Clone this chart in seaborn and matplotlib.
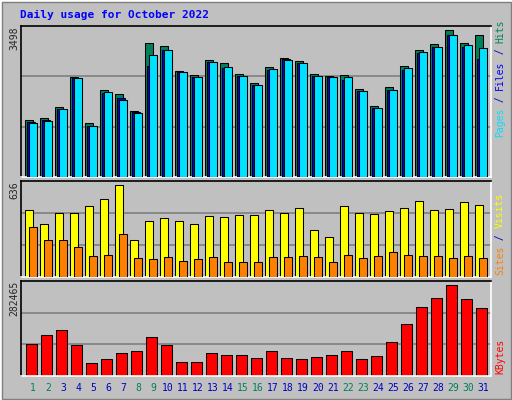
import numpy as np
import matplotlib
matplotlib.use("Agg")
import matplotlib.pyplot as plt
import seaborn as sns
from matplotlib.patches import Rectangle

days = list(range(1, 32))
hits = [1361,1408,1669,2381,1289,2072,1978,1574,3188,3117,2523,2428,2784,2713,2452,2239,
        2618,2832,2761,2452,2405,2428,2096,1693,2144,2642,3022,3164,3498,3188,3378]
files = [1314,1361,1622,2357,1218,2009,1883,1550,2642,3022,2500,2381,2737,2594,2405,2191,
         2547,2808,2713,2405,2373,2310,2049,1646,2073,2547,2950,3093,3378,3093,2808]
pages = [1290,1337,1622,2357,1218,2025,1835,1527,2903,3022,2500,2381,2737,2618,2405,2191,
         2571,2784,2713,2405,2373,2381,2049,1646,2073,2594,2974,3093,3378,3140,3069]
visits = [464,368,443,443,491,539,636,257,388,409,388,368,423,416,429,429,
          464,443,478,326,278,491,443,436,457,478,526,464,471,519,499]
sites = [347,257,257,209,147,154,299,133,126,140,112,126,140,106,106,106,
         140,140,147,140,106,154,133,147,175,154,147,147,133,147,133]
kbytes = [97934,125770,141233,94841,39170,51541,70097,76283,119585,94841,44325,44325,
          70097,63912,63912,54634,76283,56696,53603,59788,65974,78345,53603,62881,106183,
          161850,214427,242262,282465,238139,210303]
ylabels = ["3498", "636", "282465"]
right_top = [("Pages", "#00E0FF"), (" / ", "#0000C0"), ("Files", "#0000FF"), (" / ", "#0000C0"), ("Hits", "#00805C")]
right_mid = [("Sites", "#FF8000"), (" / ", "#0000C0"), ("Visits", "#FFFF00")]
right_bot = [("KBytes", "#FF0000")]

sns.set_style("white")
plt.rcParams['font.family'] = ['DejaVu Sans Mono', 'DejaVu Sans']
W, H = 512, 400
fig = plt.figure(figsize=(5.12, 4.0), dpi=100)
fig.patch.set_facecolor("#C0C0C0")

def ax_px(x0, y0, x1, y1):
    return fig.add_axes([x0 / W, 1 - y1 / H, (x1 - x0) / W, (y1 - y0) / H])

bg = "#C0C0C0"
ek = dict(edgecolor="black", linewidth=0.75)
x = np.array(days, dtype=float)

def style(ax, ymax):
    ax.set_facecolor(bg)
    ax.set_xlim(0.2, 31.53)
    ax.set_ylim(0, ymax)
    for v in (ymax / 3, 2 * ymax / 3):
        ax.axhline(v, color="#808080", lw=1.2, zorder=0)
    ax.set_xticks([]); ax.set_yticks([])
    ax.spines["left"].set_color("black"); ax.spines["top"].set_color("black")
    ax.spines["right"].set_color("white"); ax.spines["bottom"].set_color("white")
    for s in ax.spines.values():
        s.set_linewidth(1.2)

a1 = ax_px(21, 26, 491, 177)
style(a1, 3600)
a1.bar(x - 0.53, hits, width=0.55, align="edge", color="#00805C", zorder=2, **ek)
a1.bar(x - 0.40, files, width=0.55, align="edge", color="#0000FF", zorder=3, **ek)
a1.bar(x - 0.27, pages, width=0.52, align="edge", color="#00E0FF", zorder=4, **ek)

a2 = ax_px(21, 181, 491, 277)
style(a2, 661)
a2.bar(x - 0.53, visits, width=0.55, align="edge", color="#FFFF00", zorder=2, **ek)
a2.bar(x - 0.27, sites, width=0.52, align="edge", color="#FF8000", zorder=3, **ek)

a3 = ax_px(21, 281, 491, 376)
style(a3, 293800)
a3.bar(x - 0.47, kbytes, width=0.71, align="edge", color="#FF0000", zorder=2, **ek)

fig.text(20 / W, 1 - 15 / H, "Daily usage for October 2022", color="#0000FF",
         fontsize=8, fontweight="bold", va="center", ha="left")
for lab, yc in zip(ylabels, [27, 181, 281]):
    fig.text(14 / W, 1 - yc / H, lab, rotation=90, fontsize=7, ha="center", va="top")

weekend = {1, 2, 8, 9, 15, 16, 22, 23, 29, 30}
for d in days:
    px = 33 + 15 * (d - 1)
    fig.text(px / W, 1 - 388 / H, str(d), fontsize=7, ha="center", va="center",
             color="#00805C" if d in weekend else "#0000C0")

def right_label(pieces, ybottom):
    y = ybottom
    cw = 5.9
    for t, c in pieces:
        fig.text(500 / W, 1 - y / H, t, rotation=90, fontsize=7, color=c,
                 ha="center", va="bottom")
        y -= cw * len(t)
right_label(right_top, 137)
right_label(right_mid, 275)
right_label(right_bot, 374)

# outer 3D frame
fig.add_artist(Rectangle((0, 0), 1, 1, transform=fig.transFigure, fill=False,
                         edgecolor="white", lw=2))
fig.add_artist(Rectangle((1.5 / W, 1.5 / H), 1 - 3 / W, 1 - 3 / H, transform=fig.transFigure,
                         fill=False, edgecolor="#808080", lw=1))
fig.savefig("out.png", dpi=100, facecolor=fig.get_facecolor())
